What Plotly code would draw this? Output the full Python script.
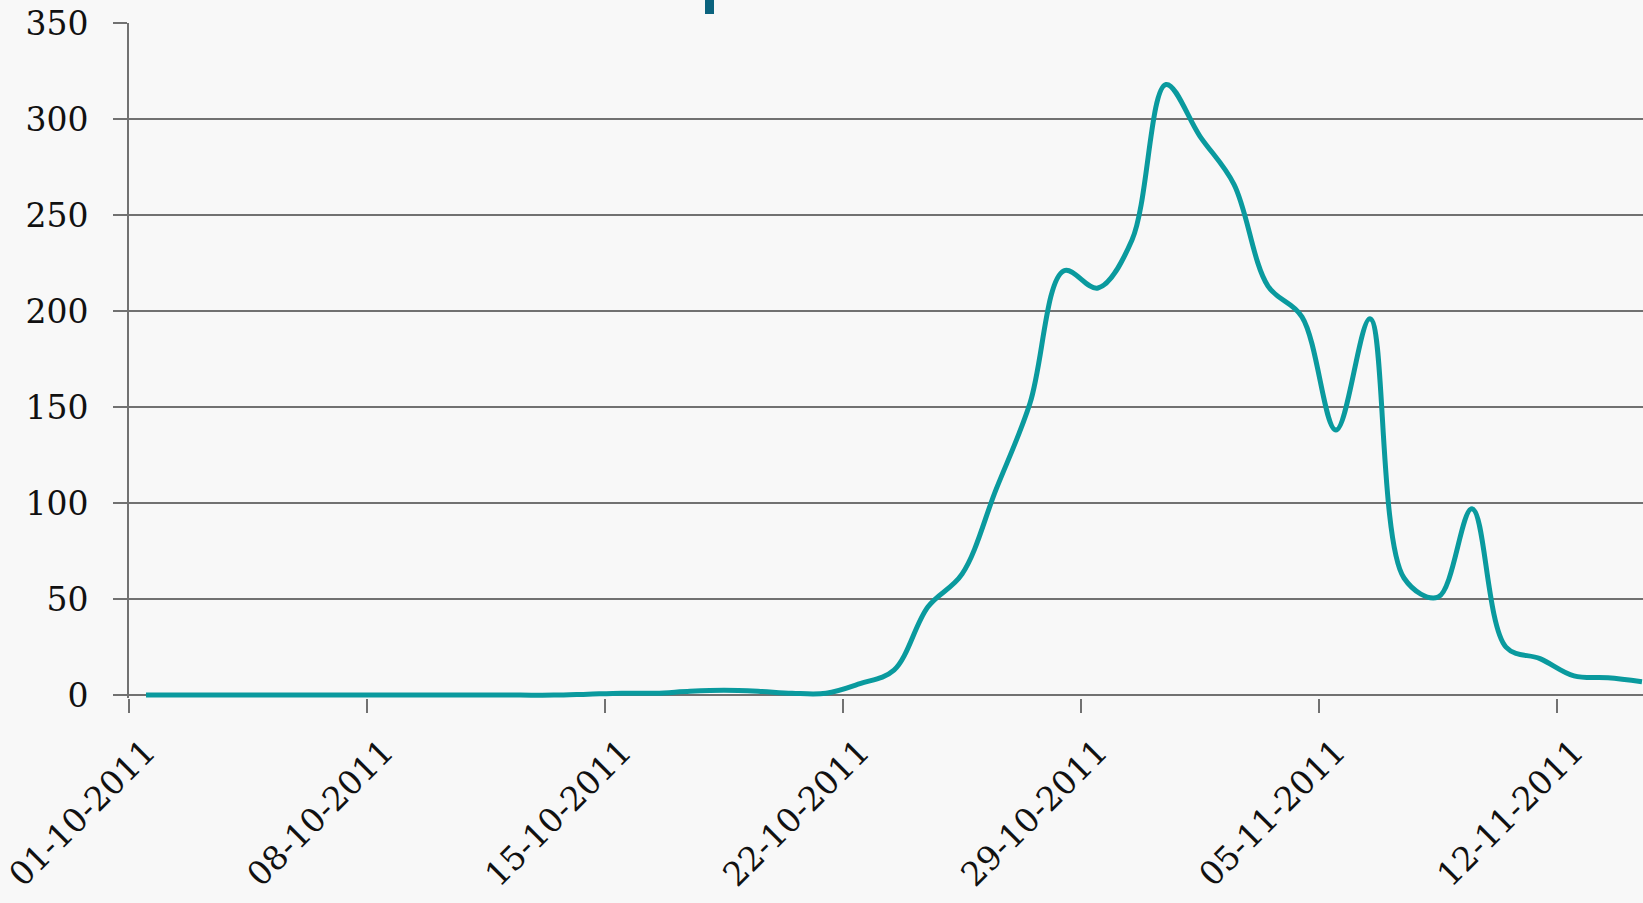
import pandas as pd
import plotly.graph_objects as go

# Daily dates 01-10-2011 .. 14-11-2011
dates = pd.date_range("2011-10-01", "2011-11-14", freq="D")
values = [0, 0, 0, 0, 0, 0, 0, 0, 0, 0,
          0, 0, 0, 0.5, 1, 1, 2, 2.5, 2, 1,
          1, 6, 13, 46, 63, 107, 152, 221, 212, 237,
          318, 291, 266, 213, 197, 138, 196, 61, 51, 97,
          25, 19, 10, 9, 7]
tick_labels = ["01-10-2011", "08-10-2011", "15-10-2011", "22-10-2011",
               "29-10-2011", "05-11-2011", "12-11-2011"]
y_ticks = [0, 50, 100, 150, 200, 250, 300, 350]

half_day = pd.Timedelta(hours=12)
tick_pos = [pd.Timestamp(d) - half_day for d in pd.to_datetime(tick_labels, format="%d-%m-%Y")]

LINE = "#0A9A9E"
GRID = "#717171"
BG = "#F8F8F8"
FONT = "DejaVu Serif"

fig = go.Figure()
fig.add_trace(go.Scatter(
    x=dates, y=values, mode="lines",
    line=dict(color=LINE, width=5, shape="spline", smoothing=1.0),
    hoverinfo="x+y", showlegend=False,
))

fig.update_layout(
    width=1643, height=903,
    margin=dict(l=129, r=0, t=23, b=205),
    paper_bgcolor=BG, plot_bgcolor=BG,
    font=dict(family=FONT, size=33, color="#111111"),
    xaxis=dict(
        type="date",
        range=[pd.Timestamp("2011-10-01") - half_day,
               pd.Timestamp("2011-10-01") - half_day + pd.Timedelta(days=44.53)],
        tickmode="array", tickvals=tick_pos, ticktext=tick_labels,
        tickangle=-45, ticks="outside", ticklen=14, tickwidth=2, tickcolor=GRID,
        ticklabelshift=17, ticklabelstandoff=6,
        showgrid=False, showline=False, zeroline=False,
        tickfont=dict(family=FONT, size=33, color="#111111"),
    ),
    yaxis=dict(
        range=[-1.5, 350],
        tickmode="array", tickvals=y_ticks,
        ticks="outside", ticklen=14, tickwidth=2, tickcolor=GRID,
        showgrid=True, gridcolor=GRID, gridwidth=2,
        zeroline=True, zerolinecolor=GRID, zerolinewidth=2,
        showline=True, linecolor=GRID, linewidth=2,
        ticklabelstandoff=18,
        tickfont=dict(family=FONT, size=33, color="#111111"),
    ),
    shapes=[dict(type="rect", xref="paper", yref="paper",
                 x0=(705 - 129) / 1514, x1=(714 - 129) / 1514,
                 y0=1 + (23 - 14) / 675, y1=1 + 23 / 675,
                 fillcolor="#0B637E", line=dict(width=0), layer="above")],
)

fig.write_html("out.html", config={"displayModeBar": False},
               post_script="document.body.style.margin='0';document.body.style.overflow='hidden';")
